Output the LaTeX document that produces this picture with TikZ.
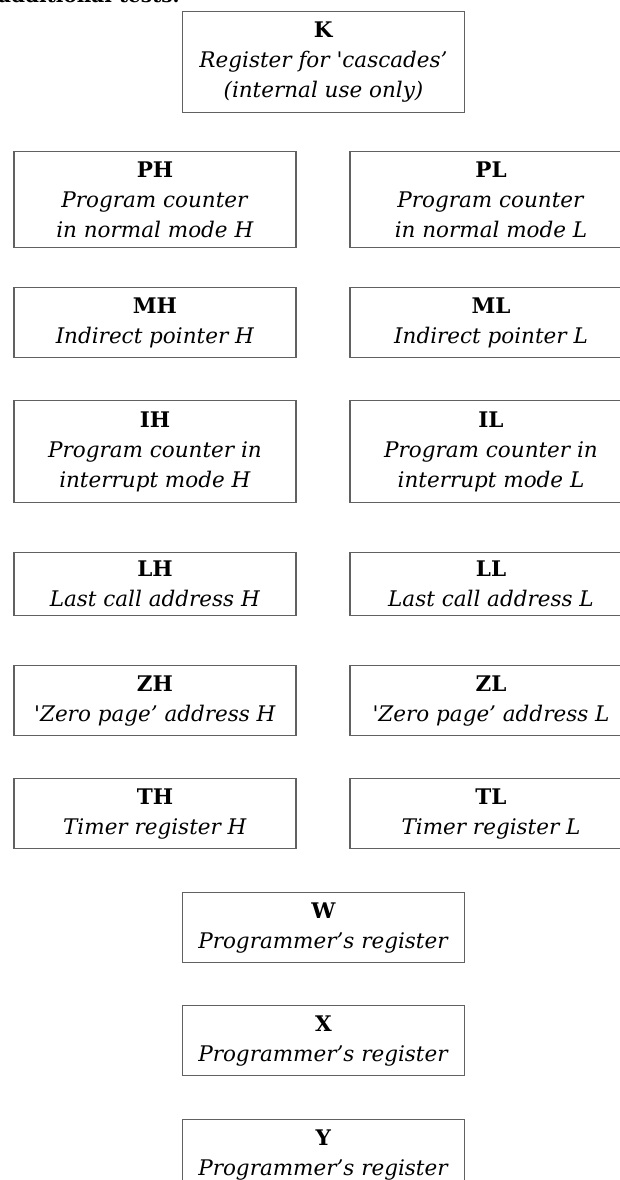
\documentclass[tikz,border=0pt]{standalone}
\usepackage{fontspec}
\setmainfont{DejaVu Serif}
\begin{document}
\begin{tikzpicture}[x=1pt,y=-1pt,
  reg/.style={draw=black!62, line width=1.2pt, rectangle, minimum width=282pt,
    inner sep=0pt, align=center, anchor=north, font=\fontsize{21.5}{30}\selectfont},
  two/.style={reg, minimum height=70pt},
  three/.style={reg, minimum height=101pt}
]
\useasboundingbox (0,0) rectangle (620,1180);
\clip (0,0) rectangle (620,1180);
\node[anchor=base west, inner sep=0pt, font=\fontsize{20}{24}\selectfont\bfseries] (hdr) at (-2,3) {additional tests.};
\node[three] (K) at (323.5,11) {\textbf{K}\\\textit{Register for \textquotesingle cascades'}\\\textit{(internal use only)}};
\node[reg, minimum height=96pt] (PH) at (155,151) {\textbf{PH}\\\textit{Program counter}\\\textit{in normal mode H}};
\node[reg, minimum height=96pt] (PL) at (491,151) {\textbf{PL}\\\textit{Program counter}\\\textit{in normal mode L}};
\node[two] (MH) at (155,287) {\textbf{MH}\\\textit{Indirect pointer H}};
\node[two] (ML) at (491,287) {\textbf{ML}\\\textit{Indirect pointer L}};
\node[reg, minimum height=102pt] (IH) at (155,400) {\textbf{IH}\\\textit{Program counter in}\\\textit{interrupt mode H}};
\node[reg, minimum height=102pt] (IL) at (491,400) {\textbf{IL}\\\textit{Program counter in}\\\textit{interrupt mode L}};
\node[reg, minimum height=63pt] (LH) at (155,552) {\textbf{LH}\\\textit{Last call address H}};
\node[reg, minimum height=63pt] (LL) at (491,552) {\textbf{LL}\\\textit{Last call address L}};
\node[two] (ZH) at (155,665) {\textbf{ZH}\\\textit{\textquotesingle Zero page' address H}};
\node[two] (ZL) at (491,665) {\textbf{ZL}\\\textit{\textquotesingle Zero page' address L}};
\node[two] (TH) at (155,778) {\textbf{TH}\\\textit{Timer register H}};
\node[two] (TL) at (491,778) {\textbf{TL}\\\textit{Timer register L}};
\node[two] (W) at (323.5,892) {\textbf{W}\\\textit{Programmer's register}};
\node[two] (X) at (323.5,1005) {\textbf{X}\\\textit{Programmer's register}};
\node[two] (Y) at (323.5,1119) {\textbf{Y}\\\textit{Programmer's register}};
\end{tikzpicture}
\end{document}
